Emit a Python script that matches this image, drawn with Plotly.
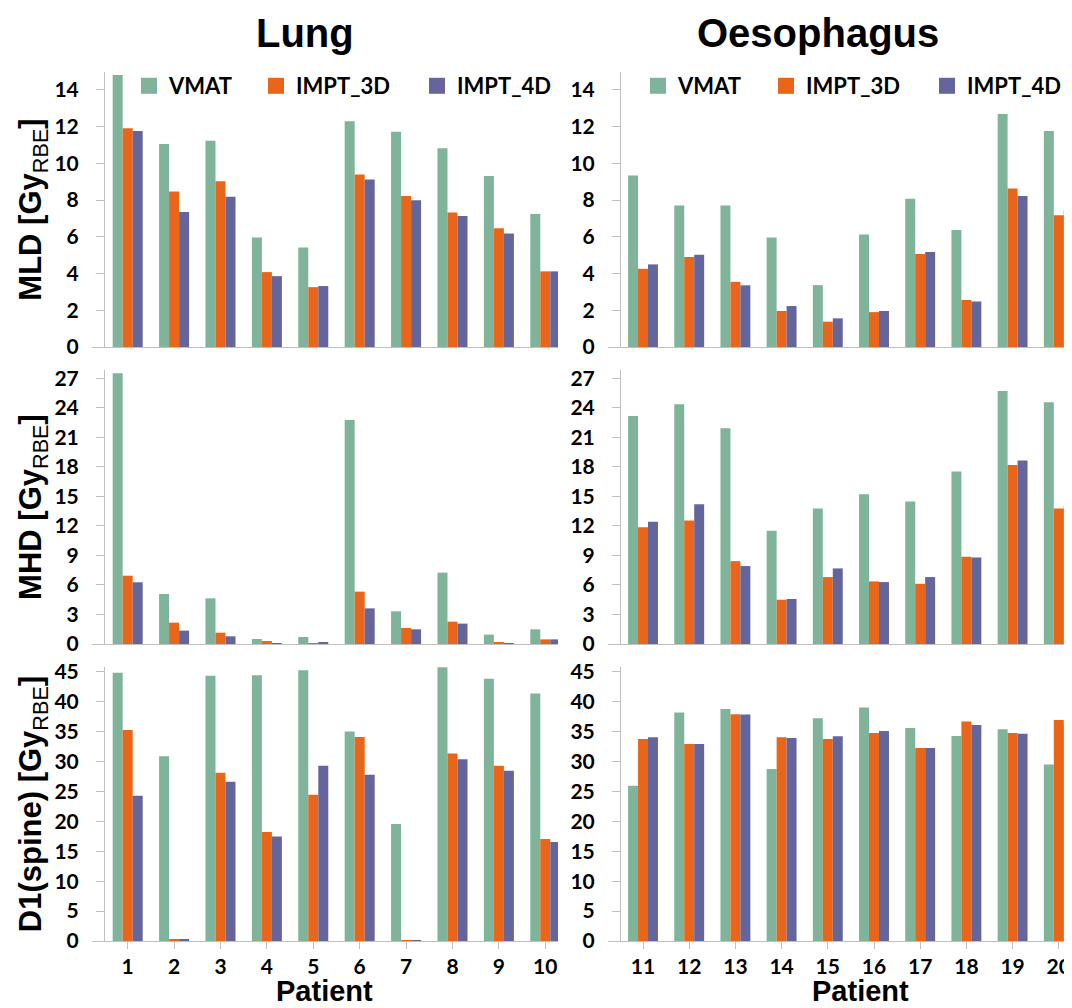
import plotly.graph_objects as go

# The page places the figure 8 px in from the top-left corner (body margin),
# so the figure is sized to fill the remaining 1064 x 1000 px of the window.
OFF = 8
FW, FH = 1072 - OFF, 1008 - OFF

# ---------------- data ----------------
patients_lung = [1, 2, 3, 4, 5, 6, 7, 8, 9, 10]
patients_oes = [11, 12, 13, 14, 15, 16, 17, 18, 19, 20]
series_names = ["VMAT", "IMPT_3D", "IMPT_4D"]
series_colors = ["#7FB39A", "#E8651A", "#64659A"]

# Mean lung dose (MLD)
mld_lung_vmat = [14.82, 11.06, 11.23, 5.97, 5.42, 12.30, 11.73, 10.83, 9.32, 7.25]
mld_lung_3d = [11.92, 8.47, 9.03, 4.08, 3.26, 9.39, 8.22, 7.33, 6.47, 4.12]
mld_lung_4d = [11.77, 7.36, 8.18, 3.86, 3.32, 9.12, 8.00, 7.13, 6.18, 4.12]
mld_oes_vmat = [9.34, 7.71, 7.71, 5.97, 3.37, 6.13, 8.07, 6.37, 12.69, 11.77]
mld_oes_3d = [4.26, 4.90, 3.55, 1.96, 1.38, 1.90, 5.06, 2.56, 8.63, 7.18]
mld_oes_4d = [4.50, 5.02, 3.36, 2.23, 1.56, 1.96, 5.17, 2.48, 8.23, 7.44]

# Mean heart dose (MHD)
mhd_lung_vmat = [27.5, 5.08, 4.64, 0.51, 0.71, 22.76, 3.32, 7.25, 0.95, 1.49]
mhd_lung_3d = [6.94, 2.17, 1.15, 0.30, 0.07, 5.32, 1.63, 2.27, 0.20, 0.47]
mhd_lung_4d = [6.27, 1.36, 0.78, 0.10, 0.17, 3.62, 1.49, 2.07, 0.10, 0.47]
mhd_oes_vmat = [23.17, 24.36, 21.92, 11.50, 13.77, 15.22, 14.48, 17.52, 25.71, 24.56]
mhd_oes_3d = [11.87, 12.55, 8.42, 4.50, 6.80, 6.36, 6.12, 8.86, 18.20, 13.77]
mhd_oes_4d = [12.42, 14.21, 7.92, 4.57, 7.68, 6.29, 6.80, 8.80, 18.64, 14.04]

# D1 of the spinal cord
d1_lung_vmat = [44.82, 30.90, 44.32, 44.43, 45.27, 35.02, 19.54, 45.77, 43.82, 41.37]
d1_lung_3d = [35.25, 0.17, 28.12, 18.21, 24.44, 34.08, 0.10, 31.35, 29.29, 17.04]
d1_lung_4d = [24.28, 0.17, 26.61, 17.48, 29.29, 27.78, 0.10, 30.40, 28.45, 16.54]
d1_oes_vmat = [25.94, 38.18, 38.79, 28.73, 37.23, 39.02, 35.60, 34.26, 35.38, 29.51]
d1_oes_3d = [33.76, 32.92, 37.90, 34.04, 33.76, 34.77, 32.25, 36.67, 34.77, 36.95]
d1_oes_4d = [34.04, 32.92, 37.84, 33.93, 34.21, 35.10, 32.25, 36.11, 34.66, 36.33]

row_titles = ["MLD [Gy<sub><span style='font-weight:normal'>RBE</span></sub>]",
              "MHD [Gy<sub><span style='font-weight:normal'>RBE</span></sub>]",
              "D1(spine) [Gy<sub><span style='font-weight:normal'>RBE</span></sub>]"]
row_ticks = [[0, 2, 4, 6, 8, 10, 12, 14],
             [0, 3, 6, 9, 12, 15, 18, 21, 24, 27],
             [0, 5, 10, 15, 20, 25, 30, 35, 40, 45]]
row_max = [14.98, 27.84, 45.8]
col_titles = ["Lung", "Oesophagus"]
x_title = "Patient"

panels = [
    [(patients_lung, [mld_lung_vmat, mld_lung_3d, mld_lung_4d]),
     (patients_oes, [mld_oes_vmat, mld_oes_3d, mld_oes_4d])],
    [(patients_lung, [mhd_lung_vmat, mhd_lung_3d, mhd_lung_4d]),
     (patients_oes, [mhd_oes_vmat, mhd_oes_3d, mhd_oes_4d])],
    [(patients_lung, [d1_lung_vmat, d1_lung_3d, d1_lung_4d]),
     (patients_oes, [d1_oes_vmat, d1_oes_3d, d1_oes_4d])],
]

# ---------------- layout geometry (page pixels) ----------------
def px_x(v):
    return (v - OFF) / FW

def px_y(v):
    return 1 - (v - OFF) / FH

row_px = [(72, 347), (370, 644), (667, 941)]      # top, bottom of each row
col_px = [(92, 558), (608, 1072)]                  # left, right of each plot area
yaxis_px = [104, 620]                              # position of each y axis line
col_xrange = [[0.231, 10.274], [10.242, 20.286]]
col_title_x = [305, 818]
x_title_x = [324, 860]
legend_x = [[129, 256, 417], [638, 766, 927]]

AXIS_GREY = "#BFBFBF"
tick_font = dict(family="Lato", size=21, color="black", weight="bold")
title_font = dict(family="Liberation Sans", size=31, color="black", weight="bold")
x_title_font = dict(family="Liberation Sans", size=29, color="black", weight="bold")

fig = go.Figure()
layout = dict(
    width=FW, height=FH,
    margin=dict(l=0, r=0, t=0, b=0, autoexpand=False),
    paper_bgcolor="white", plot_bgcolor="white",
    barmode="group", bargap=0.353, bargroupgap=0,
    showlegend=True,
)

for r in range(3):
    for c in range(2):
        k = r * 2 + c + 1
        xs, vals = panels[r][c]
        for s in range(3):
            fig.add_trace(go.Bar(
                x=xs, y=vals[s], name=series_names[s],
                marker=dict(color=series_colors[s], line=dict(width=0)),
                xaxis=f"x{k}", yaxis=f"y{k}", cliponaxis=True,
                showlegend=False, legendgroup=series_names[s],
            ))
        bottom = (r == 2)
        xa = dict(
            domain=[px_x(col_px[c][0]), px_x(col_px[c][1])],
            anchor=f"y{k}", range=col_xrange[c],
            showline=True, linecolor=AXIS_GREY, linewidth=1,
            showgrid=False, zeroline=False,
            tickvals=xs, ticktext=[str(p) for p in xs],
            ticks="outside" if bottom else "", ticklen=7, tickcolor=AXIS_GREY,
            showticklabels=bottom, tickfont=tick_font,
        )
        ya = dict(
            domain=[px_y(row_px[r][1]), px_y(row_px[r][0])],
            anchor="free", position=px_x(yaxis_px[c]),
            range=[0, row_max[r]],
            showline=True, linecolor=AXIS_GREY, linewidth=1,
            showgrid=False, zeroline=False,
            tickvals=row_ticks[r], ticks="outside", ticklen=8, tickcolor=AXIS_GREY,
            tickfont=tick_font, ticklabelstandoff=13,
        )
        if c == 0:
            ya["title"] = dict(text=row_titles[r], font=title_font, standoff=2)
        layout[f"xaxis{k}"] = xa
        layout[f"yaxis{k}"] = ya

# legend keys: one legend per series and column, large square swatches
legend_common = dict(
    orientation="h", xanchor="left", yanchor="middle", itemsizing="trace",
    font=dict(family="Lato", size=22, color="black", weight="bold"),
    bgcolor="rgba(0,0,0,0)", borderwidth=0, itemclick=False, itemdoubleclick=False,
)
n = 0
for c in range(2):
    for s in range(3):
        n += 1
        lname = "legend" if n == 1 else f"legend{n}"
        fig.add_trace(go.Scatter(
            x=[None], y=[None], mode="markers", name=series_names[s],
            marker=dict(symbol="square", size=16, color=series_colors[s]),
            xaxis="x1", yaxis="y1", legend=lname, showlegend=True,
            legendgroup=series_names[s], hoverinfo="skip",
        ))
        layout[lname] = dict(legend_common, x=px_x(legend_x[c][s]), y=px_y(86))

annotations = []
for c in range(2):
    annotations.append(dict(
        text=col_titles[c], x=px_x(col_title_x[c]), y=px_y(33.5),
        xref="paper", yref="paper", xanchor="center", yanchor="middle", showarrow=False,
        font=dict(family="Liberation Sans", size=40, color="black", weight="bold")))
    annotations.append(dict(
        text=x_title, x=px_x(x_title_x[c]), y=px_y(1008),
        xref="paper", yref="paper", xanchor="center", yanchor="bottom", showarrow=False,
        borderpad=0, font=x_title_font))
layout["annotations"] = annotations

fig.update_layout(**layout)
fig.write_html("out.html")
